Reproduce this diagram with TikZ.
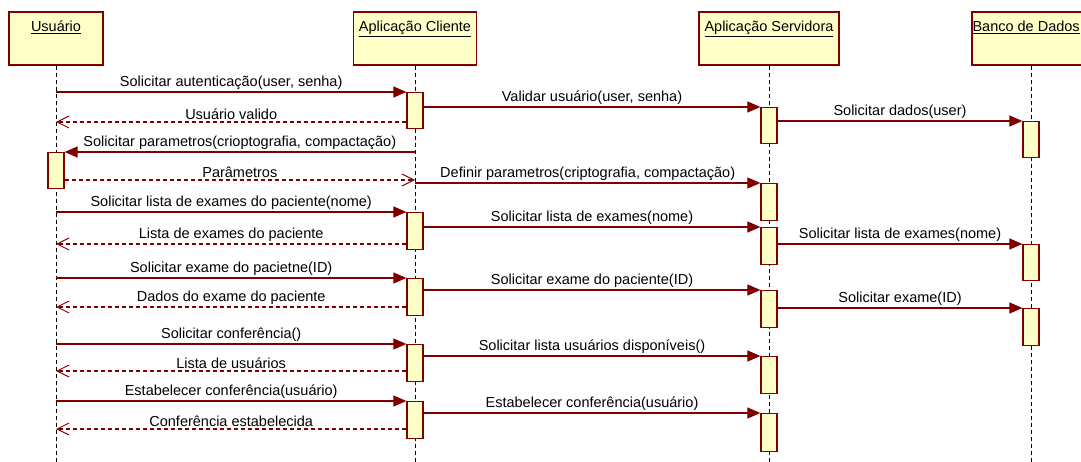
\documentclass[tikz,border=0pt]{standalone}
\usepackage{fontspec}
\setmainfont{Liberation Sans}
\usetikzlibrary{arrows.meta}

\definecolor{umlred}{RGB}{128,0,0}
\definecolor{umlfill}{RGB}{255,255,200}

\tikzset{
	actor/.style={draw=umlred, fill=umlfill, line width=1.3pt, minimum height=53pt, inner sep=0pt},
	act/.style={draw=umlred, fill=umlfill, line width=1.2pt, minimum width=16pt, inner sep=0pt, anchor=north},
	lifeline/.style={black, line width=0.9pt, dash pattern=on 4pt off 3pt},
	msg/.style={umlred, line width=1.1pt, -{Triangle[length=13pt, width=11pt]}},
	ret/.style={umlred, line width=1.1pt, dash pattern=on 4pt off 3pt, -{Straight Barb[length=12pt, width=12pt, line width=1pt]}},
	msgLabel/.style={midway, above=-1.5pt, text=black}
}

\begin{document}
\begin{tikzpicture}[x=1pt, y=-1pt, font=\fontsize{14.5}{16}\selectfont]
	\path[use as bounding box, clip] (0,0) rectangle (1081,462);

	% draw the objects
	\node[actor, minimum width=94pt] (usr) at (56,38.5) {};
	\node[actor, minimum width=123pt] (cli) at (415,38.5) {};
	\node[actor, minimum width=140pt] (srv) at (769,38.5) {};
	\node[actor, minimum width=118pt] (bd) at (1031,38.5) {};
	\node[anchor=north, yshift=-6pt] (usrName) at (usr.north) {\underline{Usuário}};
	\node[anchor=north, yshift=-6pt] (cliName) at (cli.north) {\underline{Aplicação Cliente}};
	\node[anchor=north, yshift=-6pt] (srvName) at (srv.north) {\underline{Aplicação Servidora}};
	\node[anchor=north west, yshift=-6pt, inner xsep=1pt] (bdName) at (bd.north west) {\underline{Banco de Dados}};

	% draw the lifelines
	\foreach \o in {usr,cli,srv,bd}
	\draw[lifeline] (\o.south) -- (\o |- 0,462);

	% draw the activation bars
	\foreach \n/\o/\t/\h in {u1/usr/152/36,
			c1/cli/92/36, c2/cli/212/37, c3/cli/278/37, c4/cli/344/37, c5/cli/401/37,
			s1/srv/107/36, s2/srv/183/37, s3/srv/227/37, s4/srv/290/37, s5/srv/356/37, s6/srv/413/38,
			b1/bd/121/36, b2/bd/244/36, b3/bd/308/37}
	\node[act, minimum height=\h pt] (\n) at (\o |- 0,\t) {};

	% draw the messages
	\draw[msg] (usr |- c1.north) -- (c1.north west) node[msgLabel] {Solicitar autenticação(user, senha)};
	\draw[ret] (c1.west |- 0,122) -- (usr |- 0,122) node[msgLabel] {Usuário valido};
	\draw[msg] (c1.east |- s1.north) -- (s1.north west) node[msgLabel] {Validar usuário(user, senha)};
	\draw[msg] (s1.east |- b1.north) -- (b1.north west) node[msgLabel] {Solicitar dados(user)};
	\draw[msg] (cli |- u1.north) -- (u1.north east) node[msgLabel] {Solicitar parametros(crioptografia, compactação)};
	\draw[ret] (u1.east |- 0,180) -- (cli |- 0,180) node[msgLabel] {Parâmetros};
	\draw[msg] (cli |- s2.north) -- (s2.north west) node[msgLabel] {Definir parametros(criptografia, compactação)};

	\draw[msg] (usr |- c2.north) -- (c2.north west) node[msgLabel] {Solicitar lista de exames do paciente(nome)};
	\draw[ret] (c2.west |- 0,244) -- (usr |- 0,244) node[msgLabel] {Lista de exames do paciente};
	\draw[msg] (c2.east |- s3.north) -- (s3.north west) node[msgLabel] {Solicitar lista de exames(nome)};
	\draw[msg] (s3.east |- b2.north) -- (b2.north west) node[msgLabel] {Solicitar lista de exames(nome)};

	\draw[msg] (usr |- c3.north) -- (c3.north west) node[msgLabel] {Solicitar exame do pacietne(ID)};
	\draw[ret] (c3.west |- 0,307) -- (usr |- 0,307) node[msgLabel] {Dados do exame do paciente};
	\draw[msg] (c3.east |- s4.north) -- (s4.north west) node[msgLabel] {Solicitar exame do paciente(ID)};
	\draw[msg] (s4.east |- b3.north) -- (b3.north west) node[msgLabel] {Solicitar exame(ID)};

	\draw[msg] (usr |- c4.north) -- (c4.north west) node[msgLabel] {Solicitar conferência()};
	\draw[ret] (c4.west |- 0,371) -- (usr |- 0,371) node[msgLabel] {Lista de usuários};
	\draw[msg] (c4.east |- s5.north) -- (s5.north west) node[msgLabel] {Solicitar lista usuários disponíveis()};

	\draw[msg] (usr |- c5.north) -- (c5.north west) node[msgLabel] {Estabelecer conferência(usuário)};
	\draw[ret] (c5.west |- 0,429) -- (usr |- 0,429) node[msgLabel] {Conferência estabelecida};
	\draw[msg] (c5.east |- s6.north) -- (s6.north west) node[msgLabel] {Estabelecer conferência(usuário)};
\end{tikzpicture}
\end{document}
